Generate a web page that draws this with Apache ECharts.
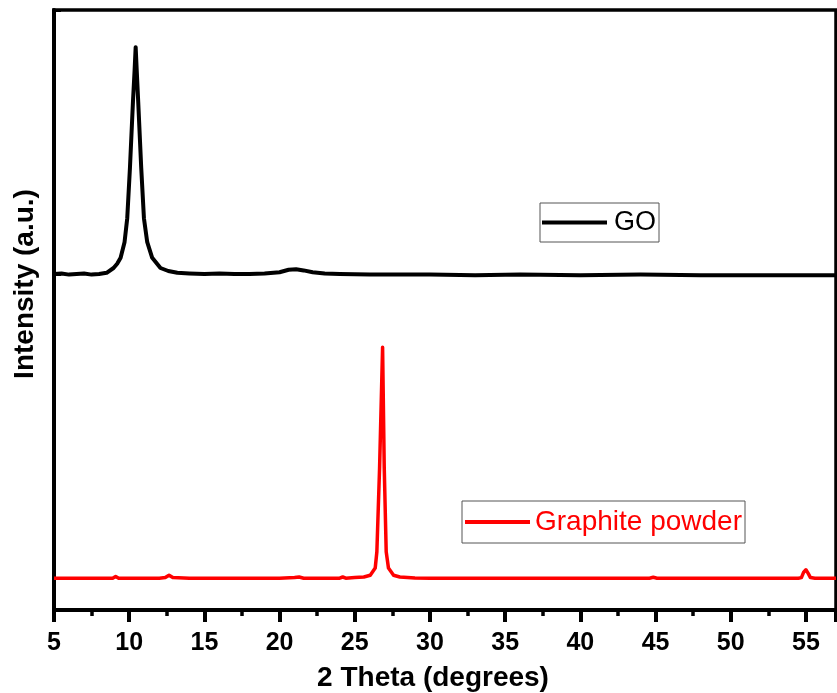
<!DOCTYPE html>
<html>
<head>
<meta charset="utf-8">
<script src="https://cdn.jsdelivr.net/npm/echarts@6/dist/echarts.min.js"></script>
<style>
  html, body { margin: 0; padding: 0; background: #fff; }
  #chart { width: 837px; height: 693px; }
</style>
</head>
<body>
<div id="chart"></div>
<script>
// GO pattern (offset upward)
const goTheta = [5.0, 5.5, 6.0, 6.5, 7.0, 7.5, 8.0, 8.5, 8.96, 9.2, 9.43, 9.69, 9.87, 10.05, 10.25, 10.36, 10.43,
  10.5, 10.6, 10.8, 10.98, 11.2, 11.53, 12.08, 12.6, 13.2, 14, 15, 16, 17, 18, 19, 20, 20.6, 21.1, 21.6, 22.2, 23,
  24, 26, 28, 30, 33, 36, 40, 44, 48, 52, 55, 57];
const goIntensity = [56.0, 56.1, 55.9, 56.0, 56.1, 55.9, 56.0, 56.2, 57.0, 57.7, 58.7, 61.3, 65.3, 73.7, 84.7, 90.0, 93.8,
  90.0, 84.7, 73.7, 65.3, 61.3, 58.7, 57.0, 56.5, 56.2, 56.1, 56.0, 56.1, 56.0, 56.0, 56.1, 56.3, 56.7, 56.8, 56.6, 56.3, 56.1,
  56.0, 55.9, 55.9, 55.9, 55.8, 55.9, 55.8, 55.9, 55.8, 55.8, 55.8, 55.8];

// Graphite powder pattern
const grTheta = [5.0, 6, 7, 8, 8.9, 9.1, 9.3, 10, 11, 12, 12.4, 12.65, 12.9, 14, 16, 18, 20, 21.0, 21.3, 21.6, 23, 24,
  24.2, 24.4, 25, 25.6, 26.03, 26.36, 26.47, 26.65, 26.85, 26.96, 27.09, 27.24, 27.58, 28, 29, 30, 34, 38, 42, 44.6,
  44.85, 45.1, 48, 52, 54.5, 54.7, 54.85, 55.0, 55.15, 55.3, 55.6, 57];
const grIntensity = [5.3, 5.3, 5.3, 5.3, 5.3, 5.6, 5.3, 5.3, 5.3, 5.3, 5.4, 5.8, 5.4, 5.3, 5.3, 5.3, 5.3, 5.4, 5.5, 5.3, 5.3, 5.3,
  5.5, 5.3, 5.4, 5.5, 5.8, 7.0, 9.7, 23.7, 43.8, 23.7, 9.7, 7.0, 5.8, 5.5, 5.35, 5.3, 5.3, 5.3, 5.3, 5.3,
  5.45, 5.3, 5.3, 5.3, 5.3, 5.4, 6.3, 6.7, 6.1, 5.4, 5.3, 5.3];

const xTicks = { min: 5, max: 57, step: 5 };
const yTickMark = 56;

const font = 'Arial, "Liberation Sans", sans-serif';
const zip = (xs, ys) => xs.map((x, i) => [x, ys[i]]);

const chart = echarts.init(document.getElementById('chart'));

chart.setOption({
  backgroundColor: '#fff',
  animation: false,
  grid: {
    left: 54, right: 1, top: 10, bottom: 83,
    outerBoundsMode: 'none',
    containLabel: false,
    show: true, borderColor: '#000', borderWidth: 3.5
  },
  legend: [
    {
      data: ['GO'],
      left: 540, top: 203,
      icon: 'rect',
      itemWidth: 65, itemHeight: 4,
      padding: [6, 3, 6, 2],
      borderColor: '#555', borderWidth: 1,
      textStyle: { fontFamily: font, fontSize: 27, color: '#000', padding: [0, 0, 0, 2] }
    },
    {
      data: ['Graphite powder'],
      left: 462, top: 501,
      icon: 'rect',
      itemWidth: 65, itemHeight: 4,
      padding: [7, 3, 7, 3],
      borderColor: '#555', borderWidth: 1,
      textStyle: { fontFamily: font, fontSize: 28, color: '#ff0000' }
    }
  ],
  xAxis: {
    type: 'value',
    min: xTicks.min, max: xTicks.max, interval: xTicks.step,
    name: '2 Theta (degrees)',
    nameLocation: 'middle',
    nameGap: 54,
    nameTextStyle: { fontFamily: font, fontSize: 28, fontWeight: 'bold', color: '#000', padding: [0, 24, 0, 0] },
    axisLine: { show: true, lineStyle: { color: '#000', width: 4 } },
    axisTick: { show: true, inside: false, length: 12, lineStyle: { color: '#000', width: 4 } },
    minorTick: { show: true, splitNumber: 2, length: 6, lineStyle: { color: '#000', width: 3.5 } },
    axisLabel: { fontFamily: font, fontSize: 25, fontWeight: 'bold', color: '#000', margin: 21, showMaxLabel: false },
    splitLine: { show: false }
  },
  yAxis: {
    type: 'value',
    min: 0, max: 100, interval: yTickMark,
    name: 'Intensity (a.u.)',
    nameLocation: 'middle',
    nameGap: 15,
    nameTextStyle: { fontFamily: font, fontSize: 28, fontWeight: 'bold', color: '#000', padding: [0, 0, 0, 52] },
    axisLine: { show: true, lineStyle: { color: '#000', width: 4 } },
    axisTick: { show: true, inside: true, length: 7, lineStyle: { color: '#000', width: 3 } },
    axisLabel: { show: false },
    splitLine: { show: false }
  },
  series: [
    {
      name: 'GO',
      type: 'line',
      data: zip(goTheta, goIntensity),
      symbol: 'none',
      color: '#000',
      lineStyle: { color: '#000', width: 4, join: 'round' }
    },
    {
      name: 'Graphite powder',
      type: 'line',
      data: zip(grTheta, grIntensity),
      symbol: 'none',
      color: '#ff0000',
      lineStyle: { color: '#ff0000', width: 3.5, join: 'round' }
    }
  ]
});
</script>
</body>
</html>
